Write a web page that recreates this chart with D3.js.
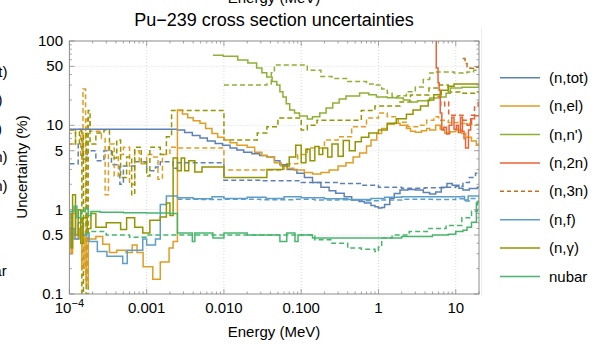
<!DOCTYPE html>
<html><head><meta charset="utf-8">
<script src="https://cdn.jsdelivr.net/npm/d3@7"></script>
<style>body{margin:0;background:#fff;} svg{display:block;font-family:"Liberation Sans",Arial,sans-serif;}</style>
</head><body><svg id="c" width="592" height="344"></svg>
<script>
// ---------- data ----------
const names = ["(n,tot)","(n,el)","(n,n')","(n,2n)","(n,3n)","(n,f)","(n,γ)","nubar"];
const colors = ["#5E81B5","#E19C24","#8FB032","#EB6235","#C56E1A","#5D9EC7","#929600","#47B66D"];
const legendDashed = [false,false,false,false,true,false,false,false];
const yTicks = [0.1,0.5,1,5,10,50,100];
const yTickLabels = ["0.1","0.5","1","5","10","50","100"];
const xTicks = [1e-4,1e-3,1e-2,0.1,1,10];
const xTickLabels = ["10^-4","0.001","0.010","0.100","1","10"];

const totSolid = [[1e-4,9.0],[2.5e-3,8.8],[3.1e-3,8.2],[3.9e-3,7.6],[4.9e-3,7.1],[6.1e-3,6.5],[7.7e-3,6.1],[9.6e-3,5.8],[0.012,5.4],[0.0147,5.1],[0.018,4.8],[0.023,4.6],[0.029,4.4],[0.036,4.2],[0.045,3.8],[0.053,3.4],[0.066,3.0],[0.088,2.7],[0.11,2.4],[0.14,2.1],[0.18,1.85],[0.23,1.68],[0.28,1.57],[0.36,1.42],[0.45,1.3],[0.56,1.25],[0.66,1.2],[0.8,1.12],[0.9,1.08],[1.0,1.05],[1.1,1.06],[1.2,1.15],[1.4,1.37],[1.6,1.55],[1.9,1.71],[2.4,1.74],[3.0,1.71],[3.8,1.6],[4.6,1.53],[5.5,1.62],[6.5,1.85],[7.7,2.05],[9,1.95],[11,1.8],[12.4,1.71],[15,1.78],[19,1.85],[20,1.85]];
const elSolid = [[1e-4,0.6],[1.05e-4,0.3],[1.1e-4,0.9],[1.2e-4,0.45],[1.35e-4,0.6],[1.45e-4,0.2],[1.55e-4,0.5],[1.65e-4,0.13],[1.75e-4,0.45],[2.2e-4,0.48],[2.7e-4,0.39],[3.3e-4,0.31],[4.1e-4,0.33],[5.4e-4,0.31],[6.5e-4,0.38],[7.5e-4,0.31],[9.0e-4,0.21],[1.2e-3,0.15],[1.5e-3,0.24],[1.95e-3,0.35],[2.2e-3,0.42],[2.5e-3,15.2],[2.9e-3,13.6],[3.4e-3,12.3],[4.0e-3,11.3],[4.9e-3,10.6],[5.8e-3,9.2],[7.0e-3,8.0],[8.3e-3,7.2],[0.01,6.7],[0.012,6.2],[0.0147,5.8],[0.02,5.5],[0.025,4.8],[0.031,4.4],[0.036,4.2],[0.045,3.6],[0.055,3.3],[0.065,3.1],[0.08,2.95],[0.11,2.75],[0.14,2.64],[0.18,2.75],[0.23,2.95],[0.3,3.3],[0.38,3.6],[0.47,4.2],[0.57,4.7],[0.7,5.7],[0.8,6.7],[0.95,8.0],[1.1,9.2],[1.3,10.3],[1.6,10.6],[1.9,10.0],[2.3,9.2],[2.6,8.5],[3.0,8.3],[3.6,8.6],[4.2,9.2],[4.6,8.8],[5.5,10],[6.3,9.0],[7.2,8.1],[8.5,8.4],[10,8.8],[12,8.0],[13.5,7.2],[16,6.5],[18.5,5.8],[20,5.8]];
const nnSolid = [[7.2e-3,68],[9.8e-3,66],[0.0151,59.5],[0.0204,54.8],[0.0265,47.8],[0.031,42],[0.0358,37.4],[0.042,33],[0.0483,30],[0.053,25],[0.058,21.7],[0.064,18],[0.071,15.2],[0.082,14],[0.095,12.9],[0.12,11.9],[0.14,12.6],[0.174,14.0],[0.21,16],[0.256,18.4],[0.31,20.5],[0.38,22.3],[0.57,24.1],[0.75,23],[0.94,21.7],[1.3,21.2],[1.72,21.1],[2.1,20],[2.54,18.9],[3.2,19.5],[4.6,21.1],[6.2,21.7],[7.5,24],[8.5,27.7],[12,28.2],[20,28.4]];
const n2nSolid = [[5.5,150],[5.6,48],[5.9,32],[6.1,26],[6.3,14],[6.6,8.8],[7.0,9.5],[7.6,7.9],[8.2,10],[8.9,12.5],[9.5,9],[10.2,10],[10.8,8.2],[11.5,12.5],[12.2,8.5],[12.8,7.0],[13.4,5.4],[14.2,5.4],[14.6,8.8],[15.6,12],[17.5,13],[20,13]];
const n3nDashed = [[12.3,62],[13.2,54],[14,49.6],[15.3,47.5],[17,49],[20,52]];
const fSolid = [[1e-4,0.6],[1.15e-4,0.45],[1.3e-4,0.7],[1.5e-4,0.5],[1.8e-4,0.42],[2.3e-4,0.32],[3.06e-4,0.28],[4.9e-4,0.23],[5.6e-4,0.33],[8.9e-4,0.45],[1.0e-3,0.38],[1.3e-3,0.45],[1.5e-3,1.15],[1.8e-3,1.45],[2.5e-3,1.38],[4e-3,1.35],[7e-3,1.42],[0.01,1.36],[0.02,1.40],[0.035,1.36],[0.06,1.42],[0.1,1.38],[0.2,1.35],[0.4,1.32],[0.8,1.36],[1.2,1.40],[2,1.42],[4,1.42],[8,1.42],[12,1.43],[13,1.3],[14.5,1.45],[20,1.5]];
const gSolid = [[1e-4,0.9],[1.05e-4,0.35],[1.1e-4,1.5],[1.2e-4,0.5],[1.3e-4,1.0],[1.4e-4,0.4],[1.5e-4,0.8],[1.7e-4,0.6],[1.9e-4,0.9],[2.2e-4,0.62],[3.0e-4,0.7],[4.6e-4,0.58],[5.5e-4,0.8],[7e-4,0.62],[8.9e-4,0.53],[1.1e-3,0.75],[1.5e-3,0.82],[1.8e-3,1.2],[2.0e-3,0.85],[2.2e-3,4.1],[2.5e-3,2.9],[2.8e-3,4.1],[3.1e-3,2.9],[3.5e-3,3.8],[4.2e-3,2.8],[5.2e-3,3.2],[0.01,2.4],[0.036,3.0],[0.058,3.3],[0.07,4.2],[0.085,5.8],[0.1,3.6],[0.115,5.2],[0.13,3.8],[0.15,5.6],[0.17,4.5],[0.19,5.4],[0.22,4.2],[0.25,6.0],[0.3,4.3],[0.35,6.6],[0.42,5.0],[0.5,6.4],[0.6,7.2],[0.75,8.1],[1.0,8.8],[1.3,10.6],[1.7,12.0],[2.3,13.5],[2.8,15.2],[3.5,17],[4.4,20],[5.2,23],[6.5,26],[8,29],[9.5,31],[20,31]];
const nubarSolid = [[1e-4,0.95],[1.15e-4,1.1],[1.25e-4,0.8],[1.4e-4,0.95],[1.6e-4,1.05],[1.75e-4,0.85],[1.9e-4,0.95],[2.5e-4,0.93],[5e-4,0.92],[1e-3,0.91],[2e-3,0.9],[2.5e-3,0.53],[3.9e-3,0.42],[4.2e-3,0.53],[7.2e-3,0.46],[0.01,0.53],[0.02,0.5],[0.053,0.42],[0.065,0.53],[0.083,0.42],[0.091,0.5],[0.14,0.46],[1.0,0.46],[2,0.48],[5,0.5],[8,0.51],[10,0.55],[12.4,0.57],[14,0.62],[16,0.71],[18.5,1.2],[20,1.3]];

const totDashed = [[1e-4,3.5],[1.3e-4,6],[1.5e-4,4],[1.7e-4,5],[2.2e-4,3.8],[2.8e-4,5],[3.5e-4,3.4],[4.5e-4,2.0],[5e-4,3.3],[7e-4,3.7],[1e-3,2.9],[1.3e-3,3.2],[1.5e-3,3.7],[2.2e-3,3.1],[2.5e-3,3.6],[0.01,2.24],[0.03,2.2],[0.1,2.1],[0.3,2.05],[0.6,1.95],[1,1.85],[2,1.8],[4,1.82],[7,1.85],[10,1.9],[12.4,2.1],[15,2.4],[18,2.7],[20,2.8]];
const elDashed = [[1e-4,6],[1.2e-4,9],[1.4e-4,4],[1.5e-4,27],[1.62e-4,0.15],[1.7e-4,12],[1.85e-4,8.5],[2.6e-4,7],[2.9e-4,1.5],[3.2e-4,6],[3.8e-4,2.5],[4.3e-4,4.5],[5.0e-4,5.5],[6e-4,2],[7e-4,5],[8e-4,3.5],[1e-3,4.5],[1.2e-3,4.2],[1.4e-3,2.3],[1.6e-3,4.5],[2e-3,5.5],[2.5e-3,5.4],[0.01,2.95],[0.036,2.95],[0.06,3.5],[0.09,4.5],[0.12,5.4],[0.2,6.7],[0.3,7.3],[0.45,9.6],[0.7,12.2],[1.0,14],[1.3,12.6],[1.8,10.9],[2.4,9.6],[3.2,10],[4.2,11.5],[5.2,12.6],[6,11.5],[8,10.8],[11,10.5],[15,10.2],[20,10]];
const nnDashed = [[0.01,30],[0.036,31],[0.041,42],[0.045,52],[0.09,52],[0.12,45],[0.18,38],[0.25,36],[0.4,33],[0.7,31],[0.9,30],[1.1,27],[1.3,24],[1.5,22],[1.8,22.5],[2.3,25],[3.0,28.5],[3.8,35],[4.6,41.6],[5.5,43],[7.5,43],[9.5,41.6],[12.4,42],[14,43],[17,45],[19,49],[20,49]];
const n2nDashed = [[5.8,22],[6.4,17],[7.2,18.9],[8.1,13.2],[10.1,13.2],[12.4,11.5],[14,10],[16,13.2],[17.5,16.5],[19.5,20],[20,20]];
const fDashed = [[2.5e-3,1.33],[5e-3,1.32],[0.01,1.33],[0.03,1.31],[0.08,1.33],[0.15,1.3],[0.3,1.31],[0.6,1.28],[1,1.3],[2,1.33],[5,1.32],[10,1.35],[13,1.27],[15,1.36],[20,1.4]];
const gDashed = [[1e-4,8.8],[1.2e-4,6],[1.35e-4,8.8],[1.45e-4,0.1],[1.52e-4,8],[1.65e-4,0.1],[1.75e-4,15],[1.85e-4,6],[2.2e-4,8.1],[2.8e-4,8.8],[3.3e-4,5.1],[3.6e-4,4.1],[4.1e-4,6.7],[4.6e-4,2.4],[5.5e-4,4.2],[6.4e-4,1.5],[7e-4,5.5],[8.5e-4,3.6],[1e-3,2.5],[1.1e-3,5.5],[1.5e-3,4.5],[1.8e-3,7.3],[2.1e-3,15],[0.01,6.7],[0.027,8.1],[0.036,9.6],[0.05,12.2],[0.1,8.8],[0.12,10],[0.16,11.5],[0.45,11.5],[0.6,15],[0.9,17],[1.9,18.9],[2.6,22.9],[4.5,27.7],[6,30],[8,24.8],[12,24],[19,24.8],[20,24.8]];
const nubarDashed = [[1e-4,0.52],[1.8e-4,0.55],[3e-4,0.5],[6e-4,0.47],[1e-3,0.5],[2.5e-3,0.5],[0.1,0.5],[0.15,0.44],[0.25,0.4],[0.4,0.35],[0.6,0.34],[0.9,0.32],[1.0,0.36],[1.1,0.46],[1.5,0.5],[2.5,0.55],[4.5,0.6],[7.5,0.65],[12,0.8],[16,0.96],[19,1.25],[20,1.25]];

const dashedSeries = [totDashed, elDashed, nnDashed, n2nDashed, n3nDashed, fDashed, gDashed, nubarDashed];
const solidSeries  = [totSolid, elSolid, nnSolid, n2nSolid, null, fSolid, gSolid, nubarSolid];

// ---------- drawing ----------
const L = 69.4, R = 479, T = 41, B = 294;
const x = d3.scaleLog().domain([1e-4, 20]).range([L, R]);
const y = d3.scaleLog().domain([0.1, 100]).range([B, T]);
const svg = d3.select("#c");

svg.append("defs").append("clipPath").attr("id","clip")
  .append("rect").attr("x",L).attr("y",T).attr("width",R-L).attr("height",B-T);

// cut-off fragments of the neighbouring figure (left legend, top axis label)
svg.append("text").attr("x",274).attr("y",3).attr("text-anchor","middle")
  .attr("font-size",15).attr("fill","#000").text("Energy (MeV)");
names.forEach((n,i)=>{
  svg.append("text").attr("x",-31.7).attr("y",77 + i*28.4).attr("text-anchor","start")
    .attr("font-size",15).attr("fill","#000").text(n);
});

// title
svg.append("text").attr("x",274).attr("y",26).attr("text-anchor","middle")
  .attr("font-size",18).attr("fill","#000").text("Pu\u2212239 cross section uncertainties");

// grid
const grid = svg.append("g").attr("stroke","#cfcfcf").attr("stroke-width",0.8).attr("stroke-dasharray","1,2");
xTicks.slice(1).forEach(v=>grid.append("line").attr("x1",x(v)).attr("x2",x(v)).attr("y1",T).attr("y2",B));
yTicks.slice(1,-1).forEach(v=>grid.append("line").attr("x1",L).attr("x2",R).attr("y1",y(v)).attr("y2",y(v)));

// series
const line = d3.line().x(d=>x(d[0])).y(d=>y(d[1])).curve(d3.curveStepAfter);
const plot = svg.append("g").attr("clip-path","url(#clip)").attr("fill","none")
  .attr("stroke-width",1.5).attr("stroke-linejoin","miter");
dashedSeries.forEach((s,i)=>{
  if(!s) return;
  plot.append("path").attr("d",line(s)).attr("stroke",colors[i]).attr("stroke-dasharray","5,3");
});
solidSeries.forEach((s,i)=>{
  if(!s) return;
  plot.append("path").attr("d",line(s)).attr("stroke",colors[i]);
});

// frame & ticks
const frameColor = "#8c8c8c";
svg.append("rect").attr("x",L).attr("y",T).attr("width",R-L).attr("height",B-T)
  .attr("fill","none").attr("stroke",frameColor).attr("stroke-width",1);
const tk = svg.append("g").attr("stroke",frameColor).attr("stroke-width",0.8);
const xMajor = new Set(xTicks.map(v=>+v.toPrecision(6)));
x.ticks().forEach(v=>{
  const maj = xMajor.has(+v.toPrecision(6));
  const len = maj ? 5 : 2.5;
  const px = x(v);
  tk.append("line").attr("x1",px).attr("x2",px).attr("y1",B).attr("y2",B-len);
  tk.append("line").attr("x1",px).attr("x2",px).attr("y1",T).attr("y2",T+len);
});
const yMajor = new Set(yTicks.map(v=>+v.toPrecision(6)));
y.ticks().forEach(v=>{
  const maj = yMajor.has(+v.toPrecision(6));
  const len = maj ? 5 : 2.5;
  const py = y(v);
  tk.append("line").attr("x1",L).attr("x2",L+len).attr("y1",py).attr("y2",py);
  tk.append("line").attr("x1",R).attr("x2",R-len).attr("y1",py).attr("y2",py);
});

// tick labels
yTicks.forEach((v,i)=>{
  svg.append("text").attr("x",63).attr("y",y(v)+5).attr("text-anchor","end")
    .attr("font-size",15).attr("fill","#000").text(yTickLabels[i]);
});
xTicks.forEach((v,i)=>{
  const t = svg.append("text").attr("x",x(v)).attr("y",313).attr("text-anchor","middle")
    .attr("font-size",15).attr("fill","#000");
  const lab = xTickLabels[i];
  if(lab.includes("^")){
    const [b,e] = lab.split("^");
    t.append("tspan").text(b);
    t.append("tspan").attr("dy",-6).attr("font-size",11).text(e.replace("-","\u2212"));
  } else t.text(lab);
});

// axis labels
svg.append("text").attr("x",274).attr("y",337).attr("text-anchor","middle")
  .attr("font-size",15).attr("fill","#000").text("Energy (MeV)");
svg.append("text").attr("transform","translate(27,167) rotate(-90)").attr("text-anchor","middle")
  .attr("font-size",15).attr("fill","#000").text("Uncertainty (%)");

// faint legend box edge
svg.append("line").attr("x1",481.5).attr("x2",481.5).attr("y1",28).attr("y2",296)
  .attr("stroke","#ececec").attr("stroke-width",1);

// legend
names.forEach((n,i)=>{
  const ly = 77.7 + i*28.4;
  svg.append("line").attr("x1",500).attr("x2",540).attr("y1",ly).attr("y2",ly)
    .attr("stroke",colors[i]).attr("stroke-width",1.5)
    .attr("stroke-dasharray",legendDashed[i] ? "4,3" : null);
  svg.append("text").attr("x",549).attr("y",ly+5).attr("font-size",15).attr("fill","#000").text(n);
});
</script></body></html>
